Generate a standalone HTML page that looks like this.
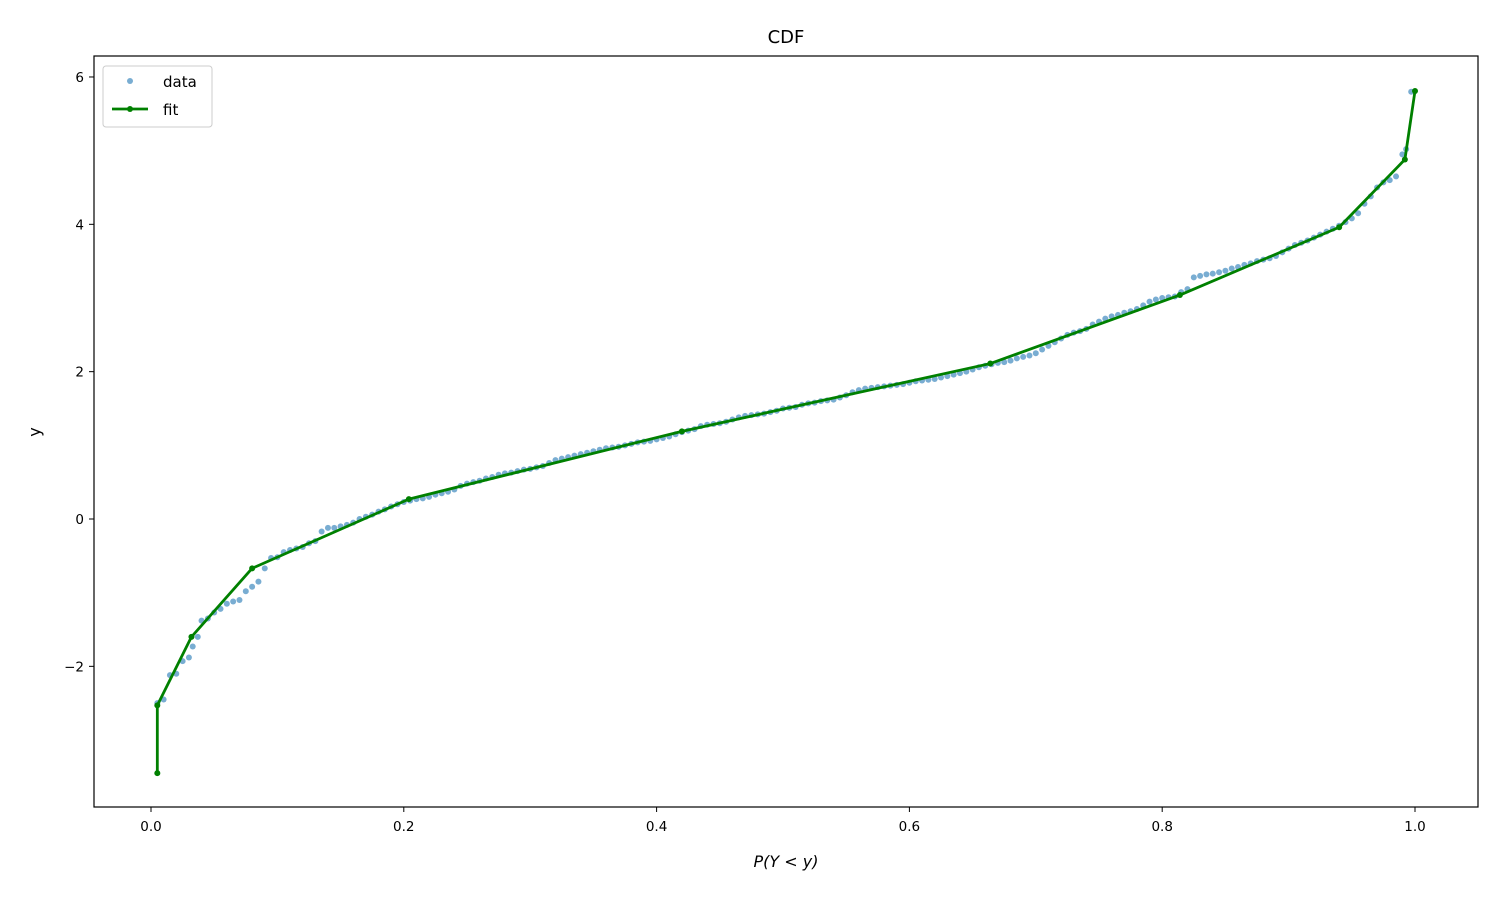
<!DOCTYPE html>
<html><head><meta charset="utf-8">
<style>
html,body{margin:0;padding:0;background:#fff;}
svg text{font-family:"DejaVu Sans","Liberation Sans",sans-serif;}
</style></head>
<body>
<svg id="chart" width="1500" height="900" xmlns="http://www.w3.org/2000/svg">
<rect x="0" y="0" width="1500" height="900" fill="#fff"/>
<text x="786" y="43" font-size="18" text-anchor="middle">CDF</text>
<g id="ticks"></g>
<g id="marks"></g>
<rect x="94" y="56" width="1384" height="751" fill="none" stroke="#000" stroke-width="1.2"/>
<text x="786" y="867" font-size="16" text-anchor="middle" font-style="italic">P(Y &lt; y)</text>
<text x="40" y="432" font-size="16" text-anchor="middle" transform="rotate(-90 40 432)">y</text>
<g>
<rect x="103" y="66" width="109" height="61" rx="3" fill="#fff" stroke="#ccc"/>
<circle cx="130" cy="81" r="3" fill="#1f77b4" fill-opacity="0.6"/>
<text x="163" y="87" font-size="15">data</text>
<line x1="112" y1="109" x2="148" y2="109" stroke="#008000" stroke-width="2.8"/>
<circle cx="130" cy="109" r="3" fill="#008000"/>
<text x="163" y="115" font-size="15">fit</text>
</g>
</svg>
<script>
const dataX=[0.005,0.01,0.015,0.02,0.025,0.03,0.033,0.037,0.04,0.045,0.05,0.055,0.06,0.065,0.07,0.075,0.08,0.085,0.09,0.095,0.1,0.105,0.11,0.115,0.12,0.125,0.13,0.135,0.14,0.145,0.15,0.155,0.16,0.165,0.17,0.175,0.18,0.185,0.19,0.195,0.2,0.205,0.21,0.215,0.22,0.225,0.23,0.235,0.24,0.245,0.25,0.255,0.26,0.265,0.27,0.275,0.28,0.285,0.29,0.295,0.3,0.305,0.31,0.315,0.32,0.325,0.33,0.335,0.34,0.345,0.35,0.355,0.36,0.365,0.37,0.375,0.38,0.385,0.39,0.395,0.4,0.405,0.41,0.415,0.42,0.425,0.43,0.435,0.44,0.445,0.45,0.455,0.46,0.465,0.47,0.475,0.48,0.485,0.49,0.495,0.5,0.505,0.51,0.515,0.52,0.525,0.53,0.535,0.54,0.545,0.55,0.555,0.56,0.565,0.57,0.575,0.58,0.585,0.59,0.595,0.6,0.605,0.61,0.615,0.62,0.625,0.63,0.635,0.64,0.645,0.65,0.655,0.66,0.665,0.67,0.675,0.68,0.685,0.69,0.695,0.7,0.705,0.71,0.715,0.72,0.725,0.73,0.735,0.74,0.745,0.75,0.755,0.76,0.765,0.77,0.775,0.78,0.785,0.79,0.795,0.8,0.805,0.81,0.815,0.82,0.825,0.83,0.835,0.84,0.845,0.85,0.855,0.86,0.865,0.87,0.875,0.88,0.885,0.89,0.895,0.9,0.905,0.91,0.915,0.92,0.925,0.93,0.935,0.94,0.945,0.95,0.955,0.96,0.965,0.97,0.975,0.98,0.985,0.99,0.993,0.997];
const dataY=[-2.5,-2.45,-2.12,-2.1,-1.93,-1.88,-1.73,-1.6,-1.38,-1.35,-1.27,-1.22,-1.15,-1.12,-1.1,-0.98,-0.92,-0.85,-0.67,-0.53,-0.52,-0.45,-0.42,-0.4,-0.38,-0.33,-0.3,-0.17,-0.12,-0.12,-0.1,-0.08,-0.05,0.0,0.03,0.06,0.1,0.13,0.17,0.2,0.23,0.25,0.27,0.28,0.3,0.33,0.35,0.37,0.4,0.45,0.48,0.5,0.52,0.55,0.57,0.6,0.62,0.63,0.65,0.67,0.68,0.7,0.72,0.76,0.8,0.82,0.84,0.86,0.88,0.9,0.92,0.94,0.96,0.97,0.98,1.0,1.02,1.04,1.05,1.06,1.08,1.1,1.12,1.15,1.18,1.2,1.22,1.26,1.28,1.29,1.3,1.32,1.35,1.38,1.4,1.41,1.42,1.43,1.45,1.47,1.5,1.51,1.52,1.55,1.57,1.58,1.6,1.61,1.62,1.65,1.68,1.72,1.75,1.77,1.78,1.79,1.8,1.81,1.82,1.83,1.85,1.87,1.88,1.89,1.9,1.92,1.94,1.96,1.98,2.0,2.03,2.06,2.08,2.1,2.12,2.13,2.15,2.18,2.2,2.22,2.25,2.3,2.35,2.4,2.45,2.5,2.53,2.55,2.58,2.64,2.68,2.72,2.75,2.77,2.8,2.82,2.85,2.9,2.95,2.98,3.0,3.01,3.02,3.08,3.12,3.28,3.3,3.32,3.33,3.35,3.37,3.4,3.42,3.45,3.47,3.5,3.52,3.54,3.57,3.62,3.67,3.72,3.75,3.78,3.82,3.86,3.9,3.94,3.98,4.03,4.08,4.15,4.28,4.38,4.5,4.57,4.6,4.65,4.95,5.02,5.8];
const fitX=[0.005,0.005,0.032,0.08,0.204,0.42,0.664,0.814,0.94,0.992,1.0];
const fitY=[-3.45,-2.53,-1.6,-0.67,0.27,1.19,2.11,3.04,3.96,4.88,5.81];
const xTicks=[0,0.2,0.4,0.6,0.8,1.0];
const xTickLabels=["0.0","0.2","0.4","0.6","0.8","1.0"];
const yTicks=[-2,0,2,4,6];
const yTickLabels=["\u22122","0","2","4","6"];

const NS="http://www.w3.org/2000/svg";
function sx(v){return 151+v*1264;}
function sy(v){return 519-v*73.67;}
function mk(tag,attrs,parent){const e=document.createElementNS(NS,tag);for(const k in attrs)e.setAttribute(k,attrs[k]);parent.appendChild(e);return e;}
const tg=document.getElementById('ticks'), mg=document.getElementById('marks');
xTicks.forEach((t,i)=>{
  const l=mk('line',{x1:sx(t),x2:sx(t),y1:807,y2:812,stroke:'#000','stroke-width':1},tg);
  
  
  const tx=mk('text',{x:sx(t),y:831,'font-size':13.5,'text-anchor':'middle'},tg);
  tx.textContent=xTickLabels[i];
  
  
});
yTicks.forEach((t,i)=>{
  const l=mk('line',{x1:89,x2:94,y1:sy(t),y2:sy(t),stroke:'#000','stroke-width':1},tg);
  
  
  const tx=mk('text',{x:84,y:sy(t)+5,'font-size':13.5,'text-anchor':'end'},tg);
  tx.textContent=yTickLabels[i];
  
  
});
dataX.forEach((x,i)=>{
  const c=mk('circle',{cx:sx(x),cy:sy(dataY[i]),r:3,fill:'#1f77b4','fill-opacity':0.6},mg);
  
  
});
const pts=fitX.map((x,i)=>sx(x)+','+sy(fitY[i])).join(' ');
const pl=mk('polyline',{points:pts,fill:'none',stroke:'#008000','stroke-width':2.8,'stroke-linejoin':'round'},mg);


fitX.forEach((x,i)=>{
  const c=mk('circle',{cx:sx(x),cy:sy(fitY[i]),r:3,fill:'#008000'},mg);
  
  
});
</script>
</body></html>
